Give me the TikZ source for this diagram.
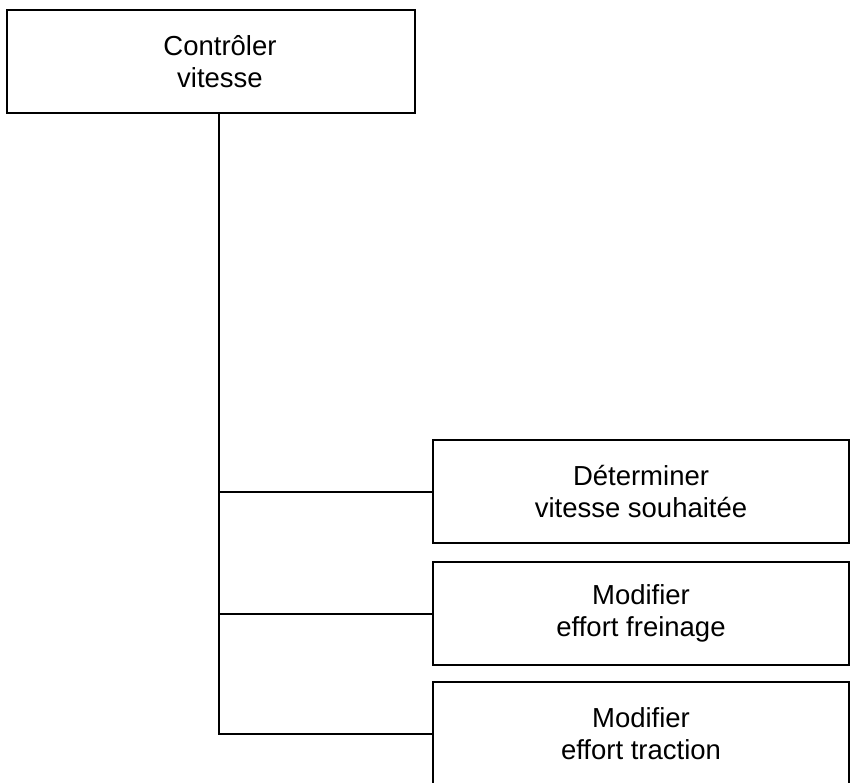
\documentclass[tikz,border=0pt]{standalone}
\usepackage{fontspec}
\setmainfont{Liberation Sans}
\begin{document}
\begin{tikzpicture}[x=1pt,y=-1pt,
  fbox/.style={draw,line width=2pt,rectangle,align=center,inner sep=0pt,
    font=\fontsize{27.5}{32}\selectfont},
  link/.style={line width=2pt}]
\useasboundingbox (0,0) rectangle (851,783);
\clip (0,0) rectangle (851,783);
\node[fbox,minimum width=408pt,minimum height=103pt] (top) at (211,61.5) {\hspace*{18pt}Contrôler\\\hspace*{18pt}vitesse};
\node[fbox,minimum width=416pt,minimum height=103pt] (b1) at (641,491.5) {Déterminer\\vitesse souhaitée};
\node[fbox,minimum width=416pt,minimum height=103pt] (b2) at (641,613.5) {Modifier\\effort freinage};
\node[fbox,minimum width=416pt,minimum height=103pt] (b3) at (641,733.5) {Modifier\\effort traction};
\coordinate (trunk) at ([xshift=8pt]top.south);
\draw[link] (trunk) |- (b3.west);
\draw[link] (b1.west) -- (b1.west -| trunk);
\draw[link] (b2.west) -- (b2.west -| trunk);
\end{tikzpicture}
\end{document}
